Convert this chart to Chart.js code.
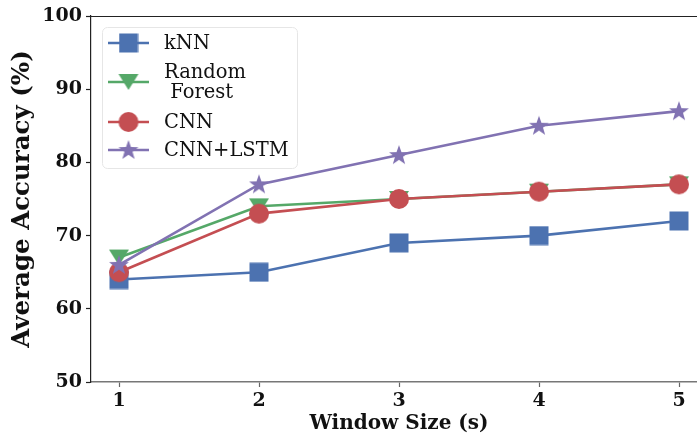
<!DOCTYPE html>
<html>
<head>
<meta charset="utf-8">
<script src="https://cdn.jsdelivr.net/npm/chart.js@4"></script>
<style>
  html, body { margin: 0; padding: 0; background: #fff; }
  #wrap { width: 697px; height: 439px; }
</style>
</head>
<body>
<div id="wrap"><canvas id="c" width="697" height="439"></canvas></div>
<script>
// Window sizes (seconds) and average accuracy per model (%)
const windowSizes = [1, 2, 3, 4, 5];
const knn          = [64, 65, 69, 70, 72];
const randomForest = [67, 74, 75, 76, 77];
const cnn          = [65, 73, 75, 76, 77];
const cnnLstm      = [66, 77, 81, 85, 87];
const yTicks       = [50, 60, 70, 80, 90, 100];

const seriesNames  = [['kNN'], ['Random', ' Forest'], ['CNN'], ['CNN+LSTM']];
const seriesColors = ['#4C72B0', '#55A868', '#C44E52', '#8172B2'];
const xTitle = 'Window Size (s)';

const FONT = "'DejaVu Serif', 'Liberation Serif', serif";

// Marker sprites drawn on small canvases
function sprite(size, draw) {
  const c = document.createElement('canvas');
  c.width = size; c.height = size;
  const g = c.getContext('2d');
  draw(g, size / 2);
  return c;
}
function squareMarker(color) {
  return sprite(20, (g, m) => { g.fillStyle = color; g.fillRect(m - 9.5, m - 9.5, 19, 19); });
}
function triangleDownMarker(color) {
  return sprite(24, (g, m) => {
    g.fillStyle = color; g.beginPath();
    g.moveTo(m - 10, m - 8); g.lineTo(m + 10, m - 8); g.lineTo(m, m + 8); g.closePath(); g.fill();
  });
}
function circleMarker(color) {
  return sprite(22, (g, m) => { g.fillStyle = color; g.beginPath(); g.arc(m, m, 10, 0, Math.PI * 2); g.fill(); });
}
function starMarker(color) {
  return sprite(24, (g, m) => {
    g.fillStyle = color; g.beginPath();
    const R = 10.5, r = 4.2;
    for (let i = 0; i < 10; i++) {
      const rad = (i % 2 === 0) ? R : r;
      const a = -Math.PI / 2 + i * Math.PI / 5;
      const px = m + rad * Math.cos(a), py = m + 0.5 + rad * Math.sin(a);
      if (i === 0) g.moveTo(px, py); else g.lineTo(px, py);
    }
    g.closePath(); g.fill();
  });
}
const markers = [
  squareMarker(seriesColors[0]),
  triangleDownMarker(seriesColors[1]),
  circleMarker(seriesColors[2]),
  starMarker(seriesColors[3])
];

const seriesValues = [knn, randomForest, cnn, cnnLstm];
const datasets = seriesValues.map((vals, i) => ({
  label: seriesNames[i].join(' ').trim(),
  data: windowSizes.map((x, j) => ({ x: x, y: vals[j] })),
  borderColor: seriesColors[i],
  backgroundColor: seriesColors[i],
  borderWidth: 2.6,
  pointStyle: markers[i],
  pointRadius: 10,
  pointHoverRadius: 10,
  order: 4 - i,
  tension: 0
}));

// Legend box with line-and-marker keys, the top spine and the x-axis title
const extrasPlugin = {
  id: 'extras',
  afterDraw(chart) {
    const ctx = chart.ctx;
    const a = chart.chartArea;
    ctx.save();
    // top spine
    ctx.strokeStyle = '#222';
    ctx.lineWidth = 1.2;
    ctx.beginPath(); ctx.moveTo(a.left, a.top + 0.5); ctx.lineTo(a.right, a.top + 0.5); ctx.stroke();

    // x-axis title, centred on the full axes span (which runs a little past the canvas)
    ctx.font = 'bold 20px ' + FONT;
    ctx.fillStyle = '#111';
    ctx.textAlign = 'center';
    ctx.textBaseline = 'middle';
    ctx.fillText(xTitle, a.left + (a.right - a.left + 10) / 2, 424);

    // legend frame
    const bx = 102.5, by = 27.5, bw = 195, bh = 141, rr = 5;
    ctx.fillStyle = 'rgba(255,255,255,0.85)';
    ctx.strokeStyle = '#e6e6e6';
    ctx.lineWidth = 1;
    ctx.beginPath();
    ctx.roundRect(bx, by, bw, bh, rr);
    ctx.fill(); ctx.stroke();

    const keyY = [43, 82, 122, 150];
    ctx.font = '19.5px ' + FONT;
    ctx.textBaseline = 'middle';
    ctx.textAlign = 'left';
    seriesNames.forEach((lines, i) => {
      const y = keyY[i];
      ctx.strokeStyle = seriesColors[i];
      ctx.lineWidth = 2.6;
      ctx.beginPath(); ctx.moveTo(108, y); ctx.lineTo(149, y); ctx.stroke();
      const m = markers[i];
      ctx.drawImage(m, 128.5 - m.width / 2, y - m.height / 2);
      ctx.fillStyle = '#111';
      const lh = 20;
      const y0 = y - (lines.length - 1) * lh / 2;
      lines.forEach((t, k) => ctx.fillText(t, 164, y0 + k * lh + 1));
    });
    ctx.restore();
  }
};

new Chart(document.getElementById('c'), {
  type: 'line',
  data: { datasets: datasets },
  options: {
    responsive: false,
    animation: false,
    events: [],
    layout: { autoPadding: false, padding: { top: 16, right: 0, left: 0, bottom: 0 } },
    plugins: { legend: { display: false }, tooltip: { enabled: false } },
    scales: {
      x: {
        type: 'linear',
        min: 0.8,
        max: 5 + 18 / 140,
        afterBuildTicks(scale) { scale.ticks = windowSizes.map(v => ({ value: v })); },
        afterFit(scale) { scale.height = 57; scale.paddingLeft = 0; scale.paddingRight = 0; },
        ticks: {
          color: '#111',
          padding: 3,
          font: { family: FONT, size: 19, weight: 'bold' },
          callback: v => String(v)
        },
        grid: { drawOnChartArea: false, tickLength: 5, color: '#666', tickWidth: 1.2 },
        border: { display: true, color: '#777', width: 1.5 },
        title: { display: false }
      },
      y: {
        min: 50,
        max: 100,
        afterBuildTicks(scale) { scale.ticks = yTicks.map(v => ({ value: v })); },
        afterFit(scale) { scale.width = 91; scale.paddingTop = 0; scale.paddingBottom = 0; },
        ticks: {
          color: '#111',
          padding: 4,
          font: { family: FONT, size: 19, weight: 'bold' },
          callback: v => String(v)
        },
        grid: { drawOnChartArea: false, tickLength: 5, color: '#222', tickWidth: 1.2 },
        border: { display: true, color: '#222', width: 1.2 },
        title: {
          display: true,
          text: 'Average Accuracy (%)',
          color: '#111',
          font: { family: FONT, size: 24.5, weight: 'bold' },
          padding: { top: 8, bottom: 0 }
        }
      }
    }
  },
  plugins: [extrasPlugin]
});
</script>
</body>
</html>
